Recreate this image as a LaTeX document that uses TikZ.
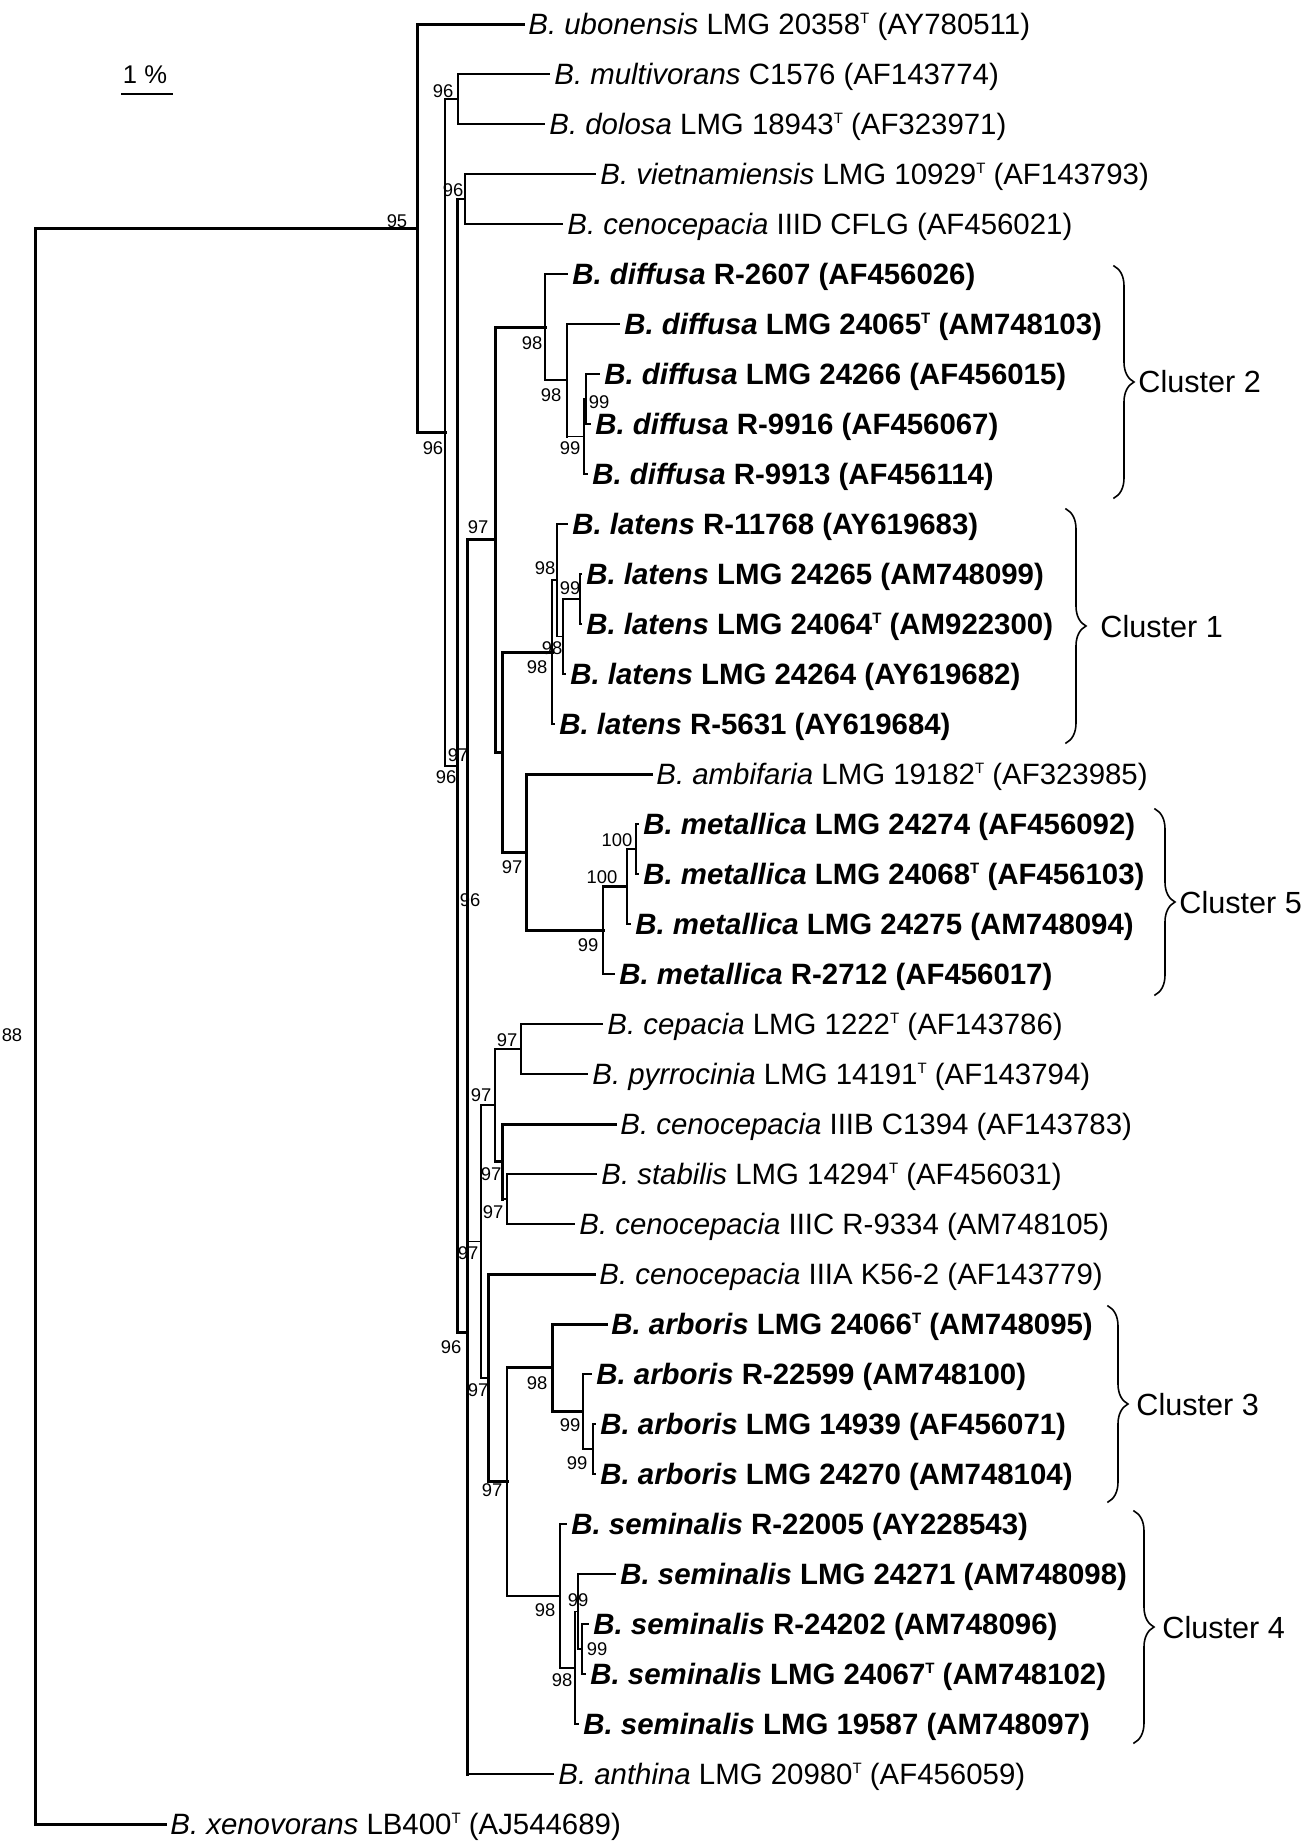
\documentclass[tikz,border=0pt]{standalone}
\usepackage{fontspec}
\setmainfont{Liberation Sans}
\usetikzlibrary{decorations.pathreplacing}
\newcommand\supT{\raisebox{5.3pt}{\fontsize{7.5}{8}\selectfont T}}
\tikzset{
  thn/.style={line width=0.85pt},
  med/.style={line width=1.15pt},
  thk/.style={line width=1.5pt},
  tip/.style={anchor=west, inner xsep=2.5pt, inner ysep=0pt, text height=10.5pt, text depth=0pt, font=\fontsize{14.7}{17}\selectfont},
  btip/.style={tip, font=\fontsize{14.7}{17}\selectfont\bfseries},
  bs/.style={inner sep=0pt, text height=6.6pt, text depth=0pt, font=\fontsize{9.2}{11}\selectfont},
  clab/.style={anchor=west, inner sep=0pt, text height=11pt, text depth=0pt, font=\fontsize{15.3}{18}\selectfont},
  brc/.style={decorate, decoration={brace, amplitude=10pt}, line width=0.8pt}
}
\begin{document}
\begin{tikzpicture}[x=0.5pt,y=-0.5pt,line cap=rect]
\useasboundingbox (0,0) rectangle (1302,1844);

% ---------- tips ----------
\node[tip]  (t1)  at (523,24)   {\textit{B. ubonensis} LMG 20358\supT{} (AY780511)};
\node[tip]  (t2)  at (549,74)   {\textit{B. multivorans} C1576 (AF143774)};
\node[tip]  (t3)  at (544,124)  {\textit{B. dolosa} LMG 18943\supT{} (AF323971)};
\node[tip]  (t4)  at (595,174)  {\textit{B. vietnamiensis} LMG 10929\supT{} (AF143793)};
\node[tip]  (t5)  at (562,224)  {\textit{B. cenocepacia} IIID CFLG (AF456021)};
\node[btip] (t6)  at (567,274)  {\textit{B. diffusa} R-2607 (AF456026)};
\node[btip] (t7)  at (619,324)  {\textit{B. diffusa} LMG 24065\supT{} (AM748103)};
\node[btip] (t8)  at (599,374)  {\textit{B. diffusa} LMG 24266 (AF456015)};
\node[btip] (t9)  at (590,424)  {\textit{B. diffusa} R-9916 (AF456067)};
\node[btip] (t10) at (587,474)  {\textit{B. diffusa} R-9913 (AF456114)};
\node[btip] (t11) at (567,524)  {\textit{B. latens} R-11768 (AY619683)};
\node[btip] (t12) at (581,574)  {\textit{B. latens} LMG 24265 (AM748099)};
\node[btip] (t13) at (581,624)  {\textit{B. latens} LMG 24064\supT{} (AM922300)};
\node[btip] (t14) at (565,674)  {\textit{B. latens} LMG 24264 (AY619682)};
\node[btip] (t15) at (554,724)  {\textit{B. latens} R-5631 (AY619684)};
\node[tip]  (t16) at (651,774)  {\textit{B. ambifaria} LMG 19182\supT{} (AF323985)};
\node[btip] (t17) at (638,824)  {\textit{B. metallica} LMG 24274 (AF456092)};
\node[btip] (t18) at (638,874)  {\textit{B. metallica} LMG 24068\supT{} (AF456103)};
\node[btip] (t19) at (630,924)  {\textit{B. metallica} LMG 24275 (AM748094)};
\node[btip] (t20) at (614,974)  {\textit{B. metallica} R-2712 (AF456017)};
\node[tip]  (t21) at (602,1024) {\textit{B. cepacia} LMG 1222\supT{} (AF143786)};
\node[tip]  (t22) at (587,1074) {\textit{B. pyrrocinia} LMG 14191\supT{} (AF143794)};
\node[tip]  (t23) at (615,1124) {\textit{B. cenocepacia} IIIB C1394 (AF143783)};
\node[tip]  (t24) at (596,1174) {\textit{B. stabilis} LMG 14294\supT{} (AF456031)};
\node[tip]  (t25) at (574,1224) {\textit{B. cenocepacia} IIIC R-9334 (AM748105)};
\node[tip]  (t26) at (594,1274) {\textit{B. cenocepacia} IIIA K56-2 (AF143779)};
\node[btip] (t27) at (606,1324) {\textit{B. arboris} LMG 24066\supT{} (AM748095)};
\node[btip] (t28) at (591,1374) {\textit{B. arboris} R-22599 (AM748100)};
\node[btip] (t29) at (595,1424) {\textit{B. arboris} LMG 14939 (AF456071)};
\node[btip] (t30) at (595,1474) {\textit{B. arboris} LMG 24270 (AM748104)};
\node[btip] (t31) at (566,1524) {\textit{B. seminalis} R-22005 (AY228543)};
\node[btip] (t32) at (615,1574) {\textit{B. seminalis} LMG 24271 (AM748098)};
\node[btip] (t33) at (588,1624) {\textit{B. seminalis} R-24202 (AM748096)};
\node[btip] (t34) at (585,1674) {\textit{B. seminalis} LMG 24067\supT{} (AM748102)};
\node[btip] (t35) at (578,1724) {\textit{B. seminalis} LMG 19587 (AM748097)};
\node[tip]  (t36) at (553,1774) {\textit{B. anthina} LMG 20980\supT{} (AF456059)};
\node[tip]  (t37) at (165,1824) {\textit{B. xenovorans} LB400\supT{} (AJ544689)};

% ---------- internal nodes ----------
\coordinate (root) at (35,1026.1);
\coordinate (n95) at (417,228.2);
\coordinate (nA) at (445,432.3);
\coordinate (nMD) at (458,99);
\coordinate (nB) at (457,765.65);
\coordinate (nVI) at (465,199);
\coordinate (nC0) at (467,1332.3);
\coordinate (nC1) at (467,890.6);
\coordinate (nU) at (495,539.625);
\coordinate (nZ2) at (545,327.125);
\coordinate (nZ1) at (567,380.25);
\coordinate (nY2) at (584,436.5);
\coordinate (nY1) at (586,399);
\coordinate (nV) at (502.5,752.125);
\coordinate (nW4) at (552,652.125);
\coordinate (nW3) at (557,580.25);
\coordinate (nW2) at (563,636.5);
\coordinate (nW1) at (580,599);
\coordinate (nAM) at (526,852.125);
\coordinate (nMe1) at (603,930.25);
\coordinate (nMe2) at (627,886.5);
\coordinate (nMe3) at (636,849);
\coordinate (nE) at (481,1241.6);
\coordinate (nG) at (495,1105.25);
\coordinate (nCP) at (521,1049);
\coordinate (nH) at (502,1161.5);
\coordinate (nI) at (507,1199);
\coordinate (nJ) at (488,1377.9);
\coordinate (nK) at (507,1481.8);
\coordinate (nL) at (552,1367.75);
\coordinate (nM) at (583,1411.5);
\coordinate (nN) at (593,1449);
\coordinate (nP) at (560,1595.9);
\coordinate (nQ) at (575,1667.75);
\coordinate (nR) at (578,1611.5);
\coordinate (nS) at (582,1649);

% ---------- branches ----------
% root
\draw[thk] (root |- n95) -- (root |- t37.west);
\draw[thk] (root |- n95) -- (n95);
\draw[thk] (root |- t37.west) -- (t37.west);
% n95
\draw[thk] (n95 |- t1.west) -- (n95 |- nA);
\draw[thk] (n95 |- t1.west) -- (t1.west);
\draw[thk] (n95 |- nA) -- (nA);
% A
\draw[thn] (nA |- nMD) -- (nA |- nB);
\draw[thn] (nA |- nMD) -- (nMD);
\draw[thn] (nA |- nB) -- (nB);
% MD
\draw[med] (nMD |- t2.west) -- (nMD |- t3.west);
\draw[med] (nMD |- t2.west) -- (t2.west);
\draw[med] (nMD |- t3.west) -- (t3.west);
% B
\draw[thk] (nB |- nVI) -- (nB |- nC0);
\draw[thn] (nB |- nVI) -- (nVI);
\draw[thk] (nB |- nC0) -- (nC0);
% VI
\draw[med] (nVI |- t4.west) -- (nVI |- t5.west);
\draw[med] (nVI |- t4.west) -- (t4.west);
\draw[med] (nVI |- t5.west) -- (t5.west);
% C0
\draw[thk] (nC0 |- nC1) -- (nC0 |- t36.west);
\draw[thk] (nC0 |- nC1) -- (nC1);
\draw[med] (nC0 |- t36.west) -- (t36.west);
% C1
\draw[thk] (nC1 |- nU) -- (nC1 |- nE);
\draw[thk] (nC1 |- nU) -- (nU);
\draw[thn] (nC1 |- nE) -- (nE);
% U
\draw[thk] (nU |- nZ2) -- (nU |- nV);
\draw[thk] (nU |- nZ2) -- (nZ2);
\draw[thk] (nU |- nV) -- (nV);
% Z2
\draw[thn] (nZ2 |- t6.west) -- (nZ2 |- nZ1);
\draw[med] (nZ2 |- t6.west) -- (t6.west);
\draw[med] (nZ2 |- nZ1) -- (nZ1);
% Z1
\draw[med] (nZ1 |- t7.west) -- (nZ1 |- nY2);
\draw[med] (nZ1 |- t7.west) -- (t7.west);
\draw[thn] (nZ1 |- nY2) -- (nY2);
% Y2
\draw[thn] (nY2 |- nY1) -- (nY2 |- t10.west);
\draw[thn] (nY2 |- nY1) -- (nY1);
\draw[thn] (nY2 |- t10.west) -- (t10.west);
% Y1
\draw[thn] (nY1 |- t8.west) -- (nY1 |- t9.west);
\draw[thn] (nY1 |- t8.west) -- (t8.west);
\draw[thn] (nY1 |- t9.west) -- (t9.west);
% V
\draw[thk] (nV |- nW4) -- (nV |- nAM);
\draw[thk] (nV |- nW4) -- (nW4);
\draw[thk] (nV |- nAM) -- (nAM);
% W4
\draw[thn] (nW4 |- nW3) -- (nW4 |- t15.west);
\draw[thn] (nW4 |- nW3) -- (nW3);
\draw[thn] (nW4 |- t15.west) -- (t15.west);
% W3
\draw[thn] (nW3 |- t11.west) -- (nW3 |- nW2);
\draw[thn] (nW3 |- t11.west) -- (t11.west);
\draw[thn] (nW3 |- nW2) -- (nW2);
% W2
\draw[thn] (nW2 |- nW1) -- (nW2 |- t14.west);
\draw[thn] (nW2 |- nW1) -- (nW1);
\draw[thn] (nW2 |- t14.west) -- (t14.west);
% W1
\draw[thn] (nW1 |- t12.west) -- (nW1 |- t13.west);
\draw[thn] (nW1 |- t12.west) -- (t12.west);
\draw[thn] (nW1 |- t13.west) -- (t13.west);
% AM
\draw[thk] (nAM |- t16.west) -- (nAM |- nMe1);
\draw[thk] (nAM |- t16.west) -- (t16.west);
\draw[thk] (nAM |- nMe1) -- (nMe1);
% Me1
\draw[med] (nMe1 |- nMe2) -- (nMe1 |- t20.west);
\draw[med] (nMe1 |- nMe2) -- (nMe2);
\draw[med] (nMe1 |- t20.west) -- (t20.west);
% Me2
\draw[thn] (nMe2 |- nMe3) -- (nMe2 |- t19.west);
\draw[thn] (nMe2 |- nMe3) -- (nMe3);
\draw[thn] (nMe2 |- t19.west) -- (t19.west);
% Me3
\draw[thn] (nMe3 |- t17.west) -- (nMe3 |- t18.west);
\draw[thn] (nMe3 |- t17.west) -- (t17.west);
\draw[thn] (nMe3 |- t18.west) -- (t18.west);
% E
\draw[thn] (nE |- nG) -- (nE |- nJ);
\draw[thn] (nE |- nG) -- (nG);
\draw[med] (nE |- nJ) -- (nJ);
% G
\draw[med] (nG |- nCP) -- (nG |- nH);
\draw[med] (nG |- nCP) -- (nCP);
\draw[med] (nG |- nH) -- (nH);
% CP
\draw[med] (nCP |- t21.west) -- (nCP |- t22.west);
\draw[med] (nCP |- t21.west) -- (t21.west);
\draw[med] (nCP |- t22.west) -- (t22.west);
% H
\draw[thk] (nH |- t23.west) -- (nH |- nI);
\draw[thk] (nH |- t23.west) -- (t23.west);
\draw[thn] (nH |- nI) -- (nI);
% I
\draw[thn] (nI |- t24.west) -- (nI |- t25.west);
\draw[thn] (nI |- t24.west) -- (t24.west);
\draw[thn] (nI |- t25.west) -- (t25.west);
% J
\draw[thk] (nJ |- t26.west) -- (nJ |- nK);
\draw[thk] (nJ |- t26.west) -- (t26.west);
\draw[thk] (nJ |- nK) -- (nK);
% K
\draw[med] (nK |- nL) -- (nK |- nP);
\draw[thk] (nK |- nL) -- (nL);
\draw[med] (nK |- nP) -- (nP);
% L
\draw[thk] (nL |- t27.west) -- (nL |- nM);
\draw[thk] (nL |- t27.west) -- (t27.west);
\draw[med] (nL |- nM) -- (nM);
% M
\draw[med] (nM |- t28.west) -- (nM |- nN);
\draw[med] (nM |- t28.west) -- (t28.west);
\draw[thn] (nM |- nN) -- (nN);
% N
\draw[thn] (nN |- t29.west) -- (nN |- t30.west);
\draw[thn] (nN |- t29.west) -- (t29.west);
\draw[thn] (nN |- t30.west) -- (t30.west);
% P
\draw[med] (nP |- t31.west) -- (nP |- nQ);
\draw[med] (nP |- t31.west) -- (t31.west);
\draw[thn] (nP |- nQ) -- (nQ);
% Q
\draw[thn] (nQ |- nR) -- (nQ |- t35.west);
\draw[thn] (nQ |- nR) -- (nR);
\draw[thn] (nQ |- t35.west) -- (t35.west);
% R
\draw[thn] (nR |- t32.west) -- (nR |- nS);
\draw[med] (nR |- t32.west) -- (t32.west);
\draw[thn] (nR |- nS) -- (nS);
% S
\draw[thn] (nS |- t33.west) -- (nS |- t34.west);
\draw[thn] (nS |- t33.west) -- (t33.west);
\draw[thn] (nS |- t34.west) -- (t34.west);

% ---------- bootstrap values ----------
\node[bs] (b88) at (12,1035) {88};
\node[bs] (b95) at (397,221) {95};
\node[bs] (bMD) at (443,91) {96};
\node[bs] (bVI) at (453,190) {96};
\node[bs] (bA) at (433,448) {96};
\node[bs] (bZ2) at (532,343) {98};
\node[bs] (bZ1) at (551,395) {98};
\node[bs] (bY2) at (570,448) {99};
\node[bs] (bY1) at (599,402) {99};
\node[bs] (bU) at (478,527) {97};
\node[bs] (bW3) at (545,568) {98};
\node[bs] (bW1) at (570,588) {99};
\node[bs] (bW2) at (552,648) {98};
\node[bs] (bW4) at (537,667) {98};
\node[bs] (bV) at (458,755) {97};
\node[bs] (bB) at (446,777) {96};
\node[bs] (bC1) at (470,900) {96};
\node[bs] (bAM) at (512,867) {97};
\node[bs] (bMe3) at (617,840) {100};
\node[bs] (bMe2) at (602,877) {100};
\node[bs] (bMe1) at (588,945) {99};
\node[bs] (bCP) at (507,1040) {97};
\node[bs] (bG) at (481,1095) {97};
\node[bs] (bH) at (491,1174) {97};
\node[bs] (bI) at (493,1212) {97};
\node[bs] (bE) at (468,1253) {97};
\node[bs] (bC0) at (451,1347) {96};
\node[bs] (bJ) at (478,1390) {97};
\node[bs] (bL) at (537,1383) {98};
\node[bs] (bM) at (570,1425) {99};
\node[bs] (bN) at (577,1463) {99};
\node[bs] (bK) at (492,1490) {97};
\node[bs] (bP) at (545,1610) {98};
\node[bs] (bR) at (578,1600) {99};
\node[bs] (bS) at (597,1649) {99};
\node[bs] (bQ) at (562,1680) {98};

% ---------- scale bar ----------
\coordinate (sb1) at (122,94);
\coordinate (sb2) at (172,94);
\draw[med] (sb1) -- (sb2);
\node[inner sep=0pt, text height=9.2pt, text depth=0pt, font=\fontsize{12.8}{15}\selectfont] (sbl) at (145,74) {1 \%};

% ---------- clusters ----------
\coordinate (c2a) at (1114,266); \coordinate (c2b) at (1114,498);
\draw[brc] (c2a) -- (c2b);
\node[clab] (cl2) at (1138,381) {Cluster 2};
\coordinate (c1a) at (1066,509); \coordinate (c1b) at (1066,743);
\draw[brc] (c1a) -- (c1b);
\node[clab] (cl1) at (1100,626) {Cluster 1};
\coordinate (c5a) at (1155,809); \coordinate (c5b) at (1155,995);
\draw[brc] (c5a) -- (c5b);
\node[clab] (cl5) at (1179,902) {Cluster 5};
\coordinate (c3a) at (1108,1306); \coordinate (c3b) at (1108,1502);
\draw[brc] (c3a) -- (c3b);
\node[clab] (cl3) at (1136,1404) {Cluster 3};
\coordinate (c4a) at (1134,1511); \coordinate (c4b) at (1134,1743);
\draw[brc] (c4a) -- (c4b);
\node[clab] (cl4) at (1162,1627) {Cluster 4};
\end{tikzpicture}
\end{document}
